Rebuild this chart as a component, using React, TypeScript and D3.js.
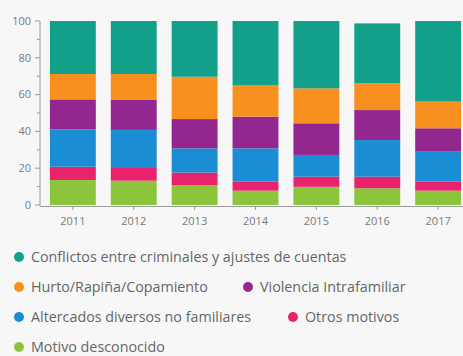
import React, { useEffect, useRef } from "react";
import * as d3 from "d3";

const years = ["2011", "2012", "2013", "2014", "2015", "2016", "2017"];
// stacked from bottom to top
const desconocido = [13.6, 13.2, 10.7, 7.8, 9.9, 9.1, 7.8];
const otros = [7.2, 7.4, 6.9, 4.9, 5.5, 6.3, 4.9];
const altercados = [20.3, 20.2, 13.2, 18.1, 11.8, 19.9, 16.3];
const violencia = [16.3, 16.5, 15.9, 17.2, 17.2, 16.3, 12.7];
const hurto = [13.8, 13.9, 23.0, 17.2, 19.0, 14.5, 14.5];
const conflictos = [28.8, 28.8, 30.3, 34.8, 36.6, 32.6, 43.8];

const seriesNames = [
  "Motivo desconocido",
  "Otros motivos",
  "Altercados diversos no familiares",
  "Violencia Intrafamiliar",
  "Hurto/Rapiña/Copamiento",
  "Conflictos entre criminales y ajustes de cuentas",
];
const seriesValues = [desconocido, otros, altercados, violencia, hurto, conflictos];
const seriesColors = ["#8cc43c", "#e8236c", "#1b8dd4", "#92278f", "#f7901e", "#13a08b"];

const yTicks = [0, 20, 40, 60, 80, 100];
const yMinorTicks = [10, 30, 50, 70, 90];

// legend rows: [series index, circle x]
const legendRows: [number, number][][] = [
  [[5, 19]],
  [[4, 19], [3, 248]],
  [[2, 19], [1, 293]],
  [[0, 19]],
];

const W = 463;
const H = 356;

export default function App() {
  const ref = useRef<SVGSVGElement>(null);

  useEffect(() => {
    if (!ref.current) return;
    const svg = d3.select(ref.current);
    svg.selectAll("*").remove();

    svg.append("rect").attr("width", W).attr("height", H).attr("fill", "#f7f7f7");

    const x = d3.scaleBand<string>().domain(years).range([42, 469]).paddingInner(0.246).paddingOuter(0.13);
    const y = d3.scaleLinear().domain([0, 100]).range([205, 21]);

    const rows = years.map((yr, i) => {
      const r: any = { year: yr };
      seriesNames.forEach((n, k) => (r[n] = seriesValues[k][i]));
      return r;
    });
    const stacked = d3.stack<any>().keys(seriesNames)(rows);

    const g = svg.append("g");
    stacked.forEach((layer, k) => {
      g.selectAll(null)
        .data(layer)
        .enter()
        .append("rect")
        .attr("x", (d) => x(d.data.year)!)
        .attr("width", x.bandwidth())
        .attr("y", (d) => y(d[1]))
        .attr("height", (d) => y(d[0]) - y(d[1]))
        .attr("fill", seriesColors[k]);
    });

    const axisColor = "#9a9a9a";
    const labelColor = "#7a7a7a";

    // y axis
    const ya = svg.append("g");
    ya.append("line").attr("x1", 40).attr("x2", 40).attr("y1", y(100)).attr("y2", y(0) + 1).attr("stroke", axisColor);
    yTicks.forEach((t) => {
      ya.append("line").attr("x1", 35).attr("x2", 40).attr("y1", y(t)).attr("y2", y(t)).attr("stroke", axisColor);
      ya.append("text")
        .attr("x", 31)
        .attr("y", y(t))
        .attr("dy", "0.35em")
        .attr("text-anchor", "end")
        .attr("font-size", 11)
        .attr("fill", labelColor)
        .text(t);
    });
    yMinorTicks.forEach((t) => {
      ya.append("line").attr("x1", 37).attr("x2", 40).attr("y1", y(t)).attr("y2", y(t)).attr("stroke", axisColor);
    });

    // x axis
    const xa = svg.append("g");
    xa.append("line").attr("x1", 40).attr("x2", W).attr("y1", 206.5).attr("y2", 206.5).attr("stroke", axisColor);
    years.forEach((yr) => {
      const cx = x(yr)! + x.bandwidth() / 2;
      xa.append("line").attr("x1", cx).attr("x2", cx).attr("y1", 206.5).attr("y2", 210).attr("stroke", axisColor);
      xa.append("text")
        .attr("x", cx)
        .attr("y", 221)
        .attr("dy", "0.35em")
        .attr("text-anchor", "middle")
        .attr("font-size", 11)
        .attr("fill", labelColor)
        .text(yr);
    });

    // legend
    const lg = svg.append("g").attr("font-size", 14.3).attr("fill", "#666");
    legendRows.forEach((row, ri) => {
      const cy = 257 + ri * 30;
      row.forEach(([k, cx]) => {
        lg.append("circle").attr("cx", cx).attr("cy", cy).attr("r", 5).attr("fill", seriesColors[k]);
        lg.append("text")
          .attr("x", cx + 12)
          .attr("y", cy)
          .attr("dy", "0.35em")
          .text(seriesNames[k]);
      });
    });
  }, []);

  return (
    <div style={{ position: "fixed", left: 0, top: 0, width: W, height: H }}>
      <svg ref={ref} width={W} height={H} style={{ display: "block", fontFamily: "'Open Sans', sans-serif" }} />
    </div>
  );
}
